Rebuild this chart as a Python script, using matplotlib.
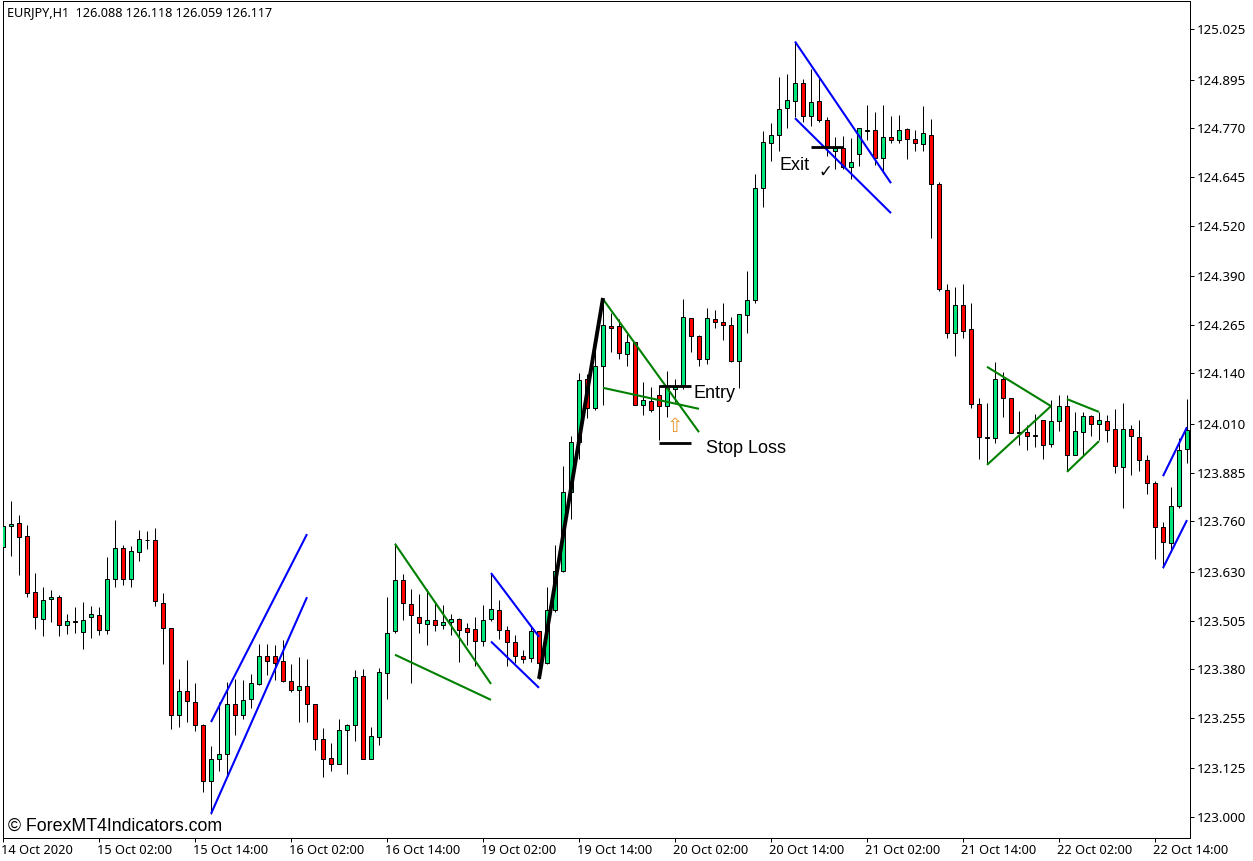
import matplotlib
matplotlib.use("Agg")
import matplotlib.pyplot as plt
from matplotlib.transforms import ScaledTranslation
import numpy as np

symbol_text = "EURJPY,H1  126.088 126.118 126.059 126.117"

opens = [123.693,123.747,123.755,123.722,123.578,123.508,123.559,123.565,123.493,123.502,
         123.475,123.513,123.518,123.480,123.611,123.691,123.611,123.680,123.711,123.711,
         123.549,123.485,123.263,123.323,123.295,123.236,123.092,123.148,123.161,123.290,
         123.261,123.303,123.343,123.413,123.413,123.400,123.349,123.326,123.336,123.290,
         123.200,123.151,123.137,123.223,123.236,123.362,123.148,123.205,123.369,123.477,
         123.608,123.547,123.513,123.495,123.506,123.493,123.500,123.508,123.485,123.482,
         123.452,123.508,123.531,123.480,123.449,123.413,123.408,123.477,123.395,123.533,
         123.633,123.835,123.963,124.125,124.050,124.159,124.262,124.262,124.190,124.220,
         124.058,124.069,124.084,124.056,124.100,124.109,124.283,124.236,124.177,124.279,
         124.272,124.264,124.172,124.290,124.328,124.616,124.731,124.753,124.822,124.840,
         124.886,124.801,124.840,124.791,124.711,124.719,124.670,124.704,124.763,124.765,
         124.693,124.747,124.740,124.768,124.742,124.729,124.753,124.627,124.354,124.244,
         124.315,124.254,124.061,123.976,123.974,124.125,124.076,123.989,123.989,123.982,
         124.020,123.958,124.017,124.056,123.930,123.989,124.030,124.010,124.017,123.997,
         123.899,123.997,123.976,123.917,123.858,123.745,123.704,123.799,123.945]
highs = [123.751,123.812,123.776,123.751,123.627,123.591,123.584,123.570,123.521,123.540,
         123.553,123.542,123.540,123.668,123.764,123.698,123.697,123.737,123.735,123.742,
         123.575,123.485,123.355,123.404,123.345,123.238,123.183,123.295,123.347,123.355,
         123.352,123.368,123.445,123.445,123.442,123.455,123.393,123.411,123.406,123.290,
         123.228,123.189,123.252,123.238,123.378,123.381,123.231,123.382,123.565,123.704,
         123.625,123.586,123.573,123.586,123.550,123.545,123.522,123.511,123.499,123.513,
         123.545,123.626,123.558,123.490,123.468,123.429,123.488,123.479,123.590,123.698,
         123.902,123.980,124.142,124.139,124.199,124.333,124.296,124.280,124.242,124.220,
         124.118,124.105,124.109,124.146,124.126,124.332,124.283,124.238,124.309,124.302,
         124.321,124.285,124.292,124.403,124.653,124.764,124.784,124.903,124.910,124.993,
         124.897,124.923,124.902,124.799,124.747,124.750,124.745,124.771,124.830,124.812,
         124.830,124.801,124.804,124.770,124.765,124.827,124.794,124.633,124.370,124.363,
         124.370,124.321,124.076,124.064,124.170,124.143,124.076,124.044,124.007,124.036,
         124.020,124.071,124.084,124.084,124.040,124.040,124.032,124.040,124.034,124.049,
         124.064,124.007,124.020,123.930,123.863,123.758,123.848,123.974,124.075]
lows = [123.669,123.672,123.623,123.566,123.484,123.464,123.502,123.466,123.471,123.474,
        123.433,123.461,123.469,123.471,123.590,123.597,123.590,123.659,123.689,123.541,
        123.394,123.225,123.232,123.245,123.222,123.063,123.007,123.117,123.102,123.211,
        123.253,123.279,123.339,123.365,123.353,123.346,123.320,123.245,123.245,123.173,
        123.104,123.117,123.135,123.111,123.196,123.148,123.148,123.186,123.304,123.474,
        123.507,123.345,123.474,123.443,123.479,123.484,123.469,123.399,123.443,123.387,
        123.440,123.503,123.458,123.389,123.396,123.397,123.399,123.355,123.392,123.526,
        123.629,123.766,123.920,124.026,124.047,124.060,124.196,124.176,124.160,124.058,
        124.034,124.042,123.970,124.027,124.066,124.100,124.196,124.158,124.163,124.256,
        124.227,124.169,124.102,124.245,124.320,124.567,124.687,124.711,124.770,124.799,
        124.785,124.775,124.785,124.700,124.665,124.665,124.639,124.672,124.741,124.675,
        124.656,124.731,124.731,124.690,124.711,124.711,124.489,124.351,124.232,124.184,
        124.230,124.052,123.919,123.907,123.962,124.029,123.986,123.955,123.942,123.952,
        123.921,123.952,123.993,123.888,123.930,123.927,123.980,123.968,123.965,123.883,
        123.793,123.880,123.890,123.829,123.664,123.641,123.680,123.793,123.911]
closes = [123.747,123.752,123.719,123.575,123.513,123.557,123.565,123.493,123.503,123.503,
          123.506,123.521,123.480,123.611,123.691,123.611,123.683,123.714,123.713,123.554,
          123.485,123.263,123.323,123.297,123.236,123.092,123.148,123.161,123.290,123.263,
          123.300,123.344,123.413,123.402,123.397,123.349,123.326,123.336,123.290,123.200,
          123.150,123.135,123.223,123.236,123.359,123.148,123.207,123.372,123.472,123.608,
          123.549,123.518,123.498,123.506,123.493,123.500,123.508,123.480,123.475,123.452,
          123.506,123.534,123.480,123.449,123.413,123.405,123.477,123.395,123.531,123.633,
          123.835,123.963,124.123,124.050,124.159,124.264,124.256,124.192,124.220,124.058,
          124.071,124.045,124.056,124.102,124.105,124.285,124.236,124.177,124.282,124.272,
          124.264,124.172,124.292,124.328,124.616,124.735,124.753,124.819,124.843,124.886,
          124.801,124.837,124.791,124.719,124.719,124.670,124.683,124.771,124.765,124.693,
          124.747,124.740,124.765,124.742,124.732,124.758,124.627,124.357,124.244,124.315,
          124.249,124.061,123.976,123.973,124.125,124.076,123.988,123.986,123.979,123.980,
          123.956,124.017,124.056,123.930,123.992,124.030,124.010,124.020,123.994,123.902,
          123.997,123.979,123.917,123.858,123.745,123.706,123.799,123.943,123.994]

price_tick_labels = ["125.025","124.895","124.770","124.645","124.520","124.390","124.265",
                     "124.140","124.010","123.885","123.760","123.630","123.505","123.380",
                     "123.255","123.125","123.000"]
time_tick_bars = [0,12,24,36,48,60,72,84,96,108,120,132,144]
time_tick_labels = ["14 Oct 2020","15 Oct 02:00","15 Oct 14:00","16 Oct 02:00","16 Oct 14:00",
                    "19 Oct 02:00","19 Oct 14:00","20 Oct 02:00","20 Oct 14:00","21 Oct 02:00",
                    "21 Oct 14:00","22 Oct 02:00","22 Oct 14:00"]

# trend lines as (bar, price) pairs
blue_lines = [((26,123.244),(38,123.727)), ((26,123.008),(38,123.565)),
              ((61,123.627),(67,123.463)), ((61,123.451),(67,123.332)),
              ((99,124.993),(111,124.629)), ((99,124.796),(111,124.552)),
              ((145,123.876),(148,124.002)), ((145,123.640),(148,123.763))]
green_lines = [((49,123.702),(61,123.342)), ((49,123.417),(61,123.301)),
               ((75,124.331),(87,123.989)), ((75,124.103),(87,124.049)),
               ((123,124.157),(131,124.056)), ((123,123.905),(131,124.056)),
               ((133,124.074),(137,124.041)), ((133,123.887),(137,123.966))]
black_thick = [((67,123.355),(75,124.334))]
level_lines = [((82,124.108),(86,124.108)), ((82,123.961),(86,123.961)),
               ((101,124.722),(105,124.722))]

annotations = [("Entry", 86.3, 124.092), ("Stop Loss", 87.9, 123.950), ("Exit", 97.1, 124.676)]

W, H = 1253, 862
fig = plt.figure(figsize=(W/100, H/100), dpi=100, facecolor="white")
L, R, T, B = 2.5, 1189.5, 1.5, 838.5
X0 = 3.0
ax = fig.add_axes([L/W, 1-B/H, (R-L)/W, (B-T)/H])
ax.set_xlim((L-X0)/8, (R-X0)/8)
ax.set_ylim(123+(818-B)/389.1, 123+(818-T)/389.1)

bars = np.arange(len(opens))
o, h, l, c = map(np.array, (opens, highs, lows, closes))
up = c >= o
ax.vlines(bars, l, h, color="black", lw=0.72, zorder=2)
ax.bar(bars, np.abs(c-o), bottom=np.minimum(o, c), width=0.5,
       color=np.where(up, "#00E676", "#FF0000"), edgecolor="black", linewidth=0.72,
       zorder=3)

def draw(lines, color, lw):
    for (x0, y0), (x1, y1) in lines:
        ax.plot([x0, x1], [y0, y1], color=color, lw=lw, solid_capstyle="butt", zorder=4)

draw(blue_lines, "#0000FF", 1.5)
draw(green_lines, "#008000", 1.5)
draw(black_thick, "black", 2.8)
draw(level_lines, "black", 2.0)

for txt, bx, py in annotations:
    ax.text(bx, py, txt, family="Liberation Sans", fontsize=13, color="black",
            ha="left", va="center", zorder=6)
ax.text(84, 124.007, "\u21e7", family="DejaVu Sans", fontsize=14, color="#E8962E",
        ha="center", va="center", zorder=6)
ax.text(102.8, 124.660, "\u2713", family="DejaVu Sans", fontsize=12, color="black",
        ha="center", va="center", zorder=6)

fig.text(8/W, 1-826/H, "\u00a9 ForexMT4Indicators.com", family="Liberation Sans",
         fontsize=12.8, color="black", ha="left", va="center", zorder=6)
fig.text(7/W, 1-13/H, symbol_text, family="Noto Sans", fontsize=9.1, color="black",
         ha="left", va="center", zorder=6)

ax.yaxis.tick_right()
ax.set_yticks([float(t) for t in price_tick_labels])
ax.set_yticklabels(price_tick_labels, family="Noto Sans", fontsize=9.55)
ax.set_xticks(time_tick_bars)
ax.set_xticklabels(time_tick_labels, family="Noto Sans", fontsize=9.25, ha="left")
ax.tick_params(axis="y", length=3, width=0.72, pad=4)
ax.tick_params(axis="x", length=3, width=0.72, pad=1)
shift_x = ScaledTranslation(-2/100, 0, fig.dpi_scale_trans)
for lab in ax.get_xticklabels():
    lab.set_transform(lab.get_transform() + shift_x)
shift_y = ScaledTranslation(-2/100, 1/100, fig.dpi_scale_trans)
for lab in ax.get_yticklabels():
    lab.set_transform(lab.get_transform() + shift_y)
for s in ax.spines.values():
    s.set_linewidth(0.72)
    s.set_color("black")

fig.savefig("out.png", dpi=100, facecolor="white")
